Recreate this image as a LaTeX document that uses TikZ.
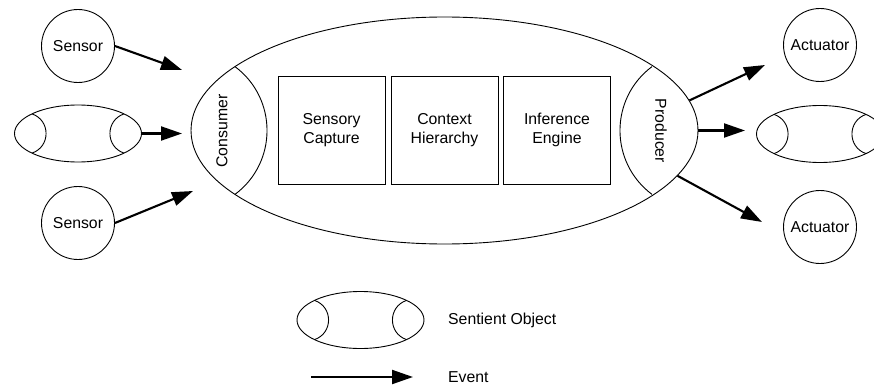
\documentclass[tikz,border=0pt]{standalone}
\usepackage{fontspec}
\setmainfont{Liberation Sans}
\usetikzlibrary{shapes.geometric,arrows.meta}

\tikzset{
  thin line/.style={line width=0.9pt},
  roundthing/.style={draw, thin line, circle, minimum size=73pt, inner sep=0pt},
  stagebox/.style={draw, thin line, minimum width=107pt, minimum height=108pt,
                   inner sep=0pt, align=center},
  event/.style={line width=2.1pt, -{Triangle[length=21pt,width=14pt]}},
  lbl/.style={inner sep=0pt},
  % sentient object: ellipse with a lens at each end
  sentient/.pic={
    \node[draw, thin line, ellipse, minimum width=127pt, minimum height=57pt,
          inner sep=0pt] (-body) at (0,0) {};
    \draw[thin line] (-46,-19.6) .. controls (-27.25,-13.2) and (-27.25,13.2) .. (-46,19.6);
    \draw[thin line] (46,-19.6) .. controls (27.25,-13.2) and (27.25,13.2) .. (46,19.6);
  }
}

\begin{document}
\begin{tikzpicture}[x=1pt, y=-1pt, font=\fontsize{15.8}{19}\selectfont]
\useasboundingbox (0,0) rectangle (874,385);

% central sentient object
\node[draw, thin line, ellipse, minimum width=507pt, minimum height=227pt,
      inner sep=0pt] (big) at (444.5,130.5) {};
\draw[thin line] (235,66.6) .. controls (277.7,98.5) and (277.7,162.5) .. (235,194.4);
\draw[thin line] (652,66.6) .. controls (609.3,98.5) and (609.3,162.5) .. (652,194.4);
\node[lbl, rotate=90] (cons) at (222,131) {Consumer};
\node[lbl, rotate=-90] (prod) at (661,131) {Producer};

% internal stages
\node[stagebox] (capture) at (331.5,130) {Sensory\\Capture};
\node[stagebox] (context) at (444.5,130) {Context\\Hierarchy};
\node[stagebox] (infer) at (557,130) {Inference\\Engine};

% inputs
\node[roundthing] (s1) at (78,46) {Sensor};
\pic (so1) at (78,133.5) {sentient};
\node[roundthing] (s3) at (78,223) {Sensor};

% outputs
\node[roundthing] (a1) at (820,45) {Actuator};
\pic (so2) at (820,134) {sentient};
\node[roundthing] (a2) at (820,227) {Actuator};

% event arrow ends
\coordinate (t1) at (182,70);
\coordinate (t2) at (182,133.5);
\coordinate (t3) at (193,191);
\coordinate (r1) at (765,65);
\coordinate (r2) at (745,130.5);
\coordinate (r3) at (762,222);

\draw[event] (s1.east) -- (t1);
\draw[event] (so1-body.east) -- (t2);
\draw[event] (s3.east) -- (t3);
\draw[event] (big.7.75) -- (r1);
\draw[event] (big.east) -- (r2);
\draw[event] (big.-11) -- (r3);

% legend
\pic (lg) at (360.5,320) {sentient};
\node[lbl, anchor=west] (lgtext) at (448,320) {Sentient Object};
\coordinate (ev1) at (311,377);
\coordinate (ev2) at (413,377);
\draw[event] (ev1) -- (ev2);
\node[lbl, anchor=west] (evtext) at (448,377) {Event};
\end{tikzpicture}
\end{document}
